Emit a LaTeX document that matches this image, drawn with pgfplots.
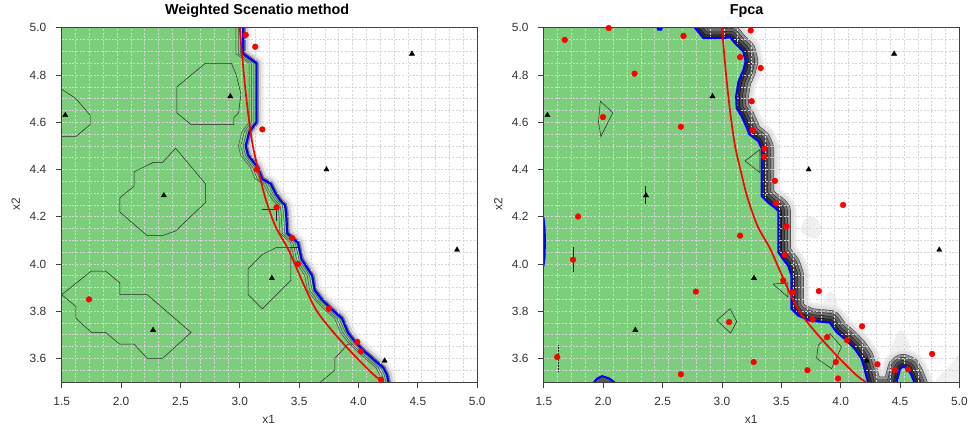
\documentclass[border=0pt]{standalone}
\usepackage{fontspec}
\setmainfont{Liberation Sans}
\usepackage{pgfplots}
\usepackage{pgfplotstable}
\pgfplotsset{compat=1.18}
\definecolor{pgreen}{RGB}{124,205,124}
\definecolor{gridc}{RGB}{214,214,214}

% ---------- left panel boundary (blue) ----------
\pgfplotstableread{
x y
3.03 5.02
3.03 4.89
3.14 4.85
3.14 4.60
3.08 4.56
3.05 4.50
3.07 4.46
3.15 4.41
3.19 4.36
3.26 4.34
3.30 4.30
3.34 4.27
3.38 4.25
3.39 4.22
3.40 4.13
3.49 4.09
3.52 4.02
3.61 3.95
3.63 3.89
3.69 3.85
3.77 3.81
3.86 3.77
3.91 3.71
3.97 3.67
4.05 3.63
4.14 3.59
4.21 3.56
4.24 3.53
4.26 3.48
}\Lbound

% ---------- right panel boundary (blue) ----------
\pgfplotstableread{
x y
2.74 5.03
2.774 5.00
2.844 4.957
3.00 4.957
3.07 4.96
3.11 4.935
3.18 4.90
3.20 4.858
3.18 4.82
3.14 4.773
3.12 4.71
3.124 4.66
3.166 4.626
3.21 4.577
3.23 4.55
3.307 4.52
3.334 4.49
3.334 4.288
3.39 4.26
3.446 4.239
3.475 4.225
3.475 4.05
3.516 4.02
3.558 3.993
3.586 3.951
3.586 3.81
3.642 3.782
3.74 3.76
3.908 3.752
3.965 3.712
4.05 3.676
4.12 3.64
4.175 3.60
4.20 3.557
4.23 3.50
4.26 3.47
4.44 3.47
4.47 3.50
4.50 3.557
4.525 3.566
4.567 3.557
4.595 3.53
4.62 3.50
4.65 3.46
}\Rbound

% ---------- true boundary (red) ----------
\pgfplotstableread{
x y
3.00 5.00
3.02 4.88
3.045 4.75
3.075 4.62
3.11 4.50
3.16 4.39
3.215 4.28
3.30 4.16
3.41 4.06
3.55 3.90
3.65 3.80
3.79 3.71
3.97 3.61
4.13 3.53
4.21 3.50
}\Truth

% ---------- points ----------
\pgfplotstableread{
x y
1.53 4.63
2.92 4.71
2.36 4.29
3.27 3.94
2.27 3.72
3.73 4.40
4.45 4.89
4.83 4.06
4.22 3.59
}\Tri

\pgfplotstableread{
x y
3.05 4.97
3.13 4.92
3.19 4.57
3.145 4.40
3.31 4.24
3.44 4.11
3.49 4.00
3.75 3.81
3.99 3.67
4.02 3.63
4.19 3.51
1.73 3.85
}\LRed

\pgfplotstableread{
x y
1.676 4.949
2.046 4.999
2.676 4.966
2.264 4.806
3.242 4.989
3.152 4.876
3.326 4.830
3.25 4.689
3.259 4.567
1.998 4.622
2.654 4.581
3.357 4.489
3.354 4.454
3.446 4.352
3.455 4.257
4.02 4.25
3.544 4.159
1.788 4.201
3.152 4.12
3.53 4.038
1.746 4.018
3.516 3.93
3.595 3.880
3.816 3.885
2.78 3.883
3.763 3.765
3.06 3.754
4.18 3.736
3.886 3.69
4.054 3.677
4.77 3.619
1.612 3.606
4.309 3.575
3.267 3.585
3.959 3.585
3.72 3.55
4.457 3.55
4.566 3.554
2.654 3.533
3.978 3.515
}\RRed

\newcommand{\drawgrid}{%
  \pgfplotsinvokeforeach{1.6167,1.7333,1.85,1.9667,2.0833,2.2,2.3167,2.4333,2.55,2.6667,2.7833,2.9,3.0167,3.1333,3.25,3.3667,3.4833,3.6,3.7167,3.8333,3.95,4.0667,4.1833,4.3,4.4167,4.5333,4.65,4.7667,4.8833}{%
    \draw[gridline] (axis cs:##1,3.5) -- (axis cs:##1,5);}%
  \pgfplotsinvokeforeach{3.55,3.6,3.65,3.7,3.75,3.8,3.85,3.9,3.95,4.0,4.05,4.1,4.15,4.2,4.25,4.3,4.35,4.4,4.45,4.5,4.55,4.6,4.65,4.7,4.75,4.8,4.85,4.9,4.95}{%
    \draw[gridline] (axis cs:1.5,##1) -- (axis cs:5,##1);}%
}

\tikzset{gridline/.style={gridc, dash pattern=on 2bp off 1.6bp, line width=0.7bp}}

\pgfplotsset{
  panel/.style={
    scale only axis, width=417.7bp, height=356bp,
    xmin=1.5, xmax=5, ymin=3.5, ymax=5,
    xtick={1.5,2.0,2.5,3.0,3.5,4.0,4.5,5.0},
    ytick={3.6,3.8,4.0,4.2,4.4,4.6,4.8,5.0},
    axis on top, tick align=outside, major tick length=6bp,
    axis line style={black!75, line width=0.8bp},
    every tick/.style={black!75, line width=0.8bp},
    xtick pos=bottom, ytick pos=left,
    ticklabel style={font=\fontsize{12}{14}\selectfont, text=black!80},
    xticklabel style={yshift=-6bp},
    yticklabel style={xshift=-6bp},
    /pgf/number format/fixed, /pgf/number format/fixed zerofill,
    /pgf/number format/precision=1, /pgf/number format/assume math mode=true,
    clip=true,
  },
  redpts/.style={only marks, mark=*, mark size=2.9bp, mark options={fill=red, draw=red}},
  tripts/.style={only marks, mark=triangle*, mark size=3bp, mark options={fill=black, draw=black}},
  cont/.style={black!85, line width=0.5bp},
  band/.style={line join=round, line cap=round},
  blob/.style={fill=black!6, draw=none, smooth cycle},
}

\begin{document}
\begin{tikzpicture}
\path (0,0) rectangle (971bp,429bp);

% ================= LEFT PANEL =================
\begin{axis}[panel, at={(62bp,45bp)}, anchor=south west]
  % halo right of boundary
  \addplot[band, black!6, line width=16bp] table {\Lbound};
  \addplot[band, black!18, line width=10bp] table {\Lbound};
  \addplot[band, black!50, line width=5bp] table {\Lbound};
  % green region
  \addplot[fill=pgreen, draw=none] coordinates {(1.4,3.45) (1.4,5.05) (3.03,5.05)
    (3.03,4.89) (3.14,4.85) (3.14,4.60) (3.08,4.56) (3.05,4.50) (3.07,4.46) (3.15,4.41)
    (3.19,4.36) (3.26,4.34) (3.30,4.30) (3.34,4.27) (3.38,4.25) (3.39,4.22) (3.40,4.13)
    (3.49,4.09) (3.52,4.02) (3.61,3.95) (3.63,3.89) (3.69,3.85) (3.77,3.81) (3.86,3.77)
    (3.91,3.71) (3.97,3.67) (4.05,3.63) (4.14,3.59) (4.21,3.56) (4.24,3.53) (4.26,3.45)};
  \drawgrid
  % contour lines parallel to the boundary
  \addplot[black!70, line width=0.5bp] table[x expr=\thisrow{x}-0.022, y=y] {\Lbound};
  \addplot[black!70, line width=0.5bp] table[x expr=\thisrow{x}-0.042, y=y] {\Lbound};
  \addplot[black!70, line width=0.5bp] table[x expr=\thisrow{x}-0.062, y=y] {\Lbound};
  % other contour polygons
  \addplot[cont] coordinates {(1.5,4.74) (1.62,4.70) (1.74,4.63) (1.74,4.59) (1.62,4.54) (1.5,4.54)};
  \addplot[cont] coordinates {(2.47,4.75) (2.71,4.85) (2.93,4.85) (2.97,4.80) (3.01,4.72) (2.99,4.64) (2.95,4.62) (2.95,4.59) (2.59,4.59) (2.47,4.64) (2.47,4.75)};
  \addplot[cont] coordinates {(2.11,4.39) (2.27,4.43) (2.35,4.43) (2.46,4.49) (2.71,4.34) (2.71,4.26) (2.46,4.14) (2.35,4.12) (2.22,4.12) (1.99,4.22) (1.99,4.28) (2.11,4.33) (2.11,4.39)};
  \addplot[cont] coordinates {(3.19,4.04) (3.31,4.07) (3.43,4.07) (3.43,3.93) (3.19,3.81) (3.07,3.87) (3.07,3.98) (3.19,4.04)};
  \addplot[cont] coordinates {(3.43,4.07) (3.50,4.07)};
  \addplot[cont] coordinates {(1.5,3.87) (1.75,3.97) (1.87,3.97) (1.99,3.92) (1.99,3.87) (2.22,3.87) (2.59,3.71) (2.35,3.60) (2.22,3.60) (2.11,3.66) (1.99,3.66) (1.87,3.71) (1.75,3.71) (1.62,3.77) (1.62,3.82) (1.5,3.87)};
  \addplot[cont] coordinates {(3.68,3.50) (3.80,3.55) (3.80,3.60) (3.91,3.66) (3.95,3.66)};
  \addplot[cont] coordinates {(3.19,4.23) (3.31,4.23) (3.31,4.18)};
  % estimated boundary
  \addplot[blue, line width=2.2bp, line join=round] table {\Lbound};
  % true boundary
  \addplot[red, line width=1.7bp, smooth] table {\Truth};
  % points
  \addplot[tripts] table {\Tri};
  \addplot[redpts] table {\LRed};
\end{axis}

% ================= RIGHT PANEL =================
\begin{axis}[panel, at={(546.7bp,45bp)}, anchor=south west]
  % faint grey patches
  \addplot[blob] coordinates {(3.66,4.15) (3.72,4.20) (3.80,4.19) (3.84,4.15) (3.80,4.11) (3.70,4.12)};
  \addplot[blob] coordinates {(3.84,3.80) (3.90,3.88) (3.96,3.86) (3.97,3.80)};
  \addplot[blob] coordinates {(4.42,3.62) (4.50,3.72) (4.58,3.66) (4.55,3.60)};
  \addplot[blob] coordinates {(4.80,3.50) (4.90,3.56) (5.02,3.62) (5.02,3.50)};
  % band right of boundary
  \addplot[band, black!7, line width=36bp] table {\Rbound};
  \addplot[band, black!12, line width=31bp] table {\Rbound};
  \addplot[band, black!80, line width=25bp] table {\Rbound};
  \addplot[band, black!42, line width=24bp] table {\Rbound};
  \addplot[band, black!85, line width=19bp] table {\Rbound};
  \addplot[band, black!58, line width=18bp] table {\Rbound};
  \addplot[band, black!90, line width=13bp] table {\Rbound};
  \addplot[band, black!70, line width=12bp] table {\Rbound};
  \addplot[band, black!95, line width=7bp] table {\Rbound};
  \addplot[band, black!82, line width=6bp] table {\Rbound};
  % green region
  \addplot[fill=pgreen, draw=none] coordinates {(1.4,3.45) (1.4,5.05) (2.74,5.05) (2.774,5.00)
    (2.844,4.957) (3.00,4.957) (3.07,4.96) (3.11,4.935) (3.18,4.90) (3.20,4.858) (3.18,4.82)
    (3.14,4.773) (3.12,4.71) (3.124,4.66) (3.166,4.626) (3.21,4.577) (3.23,4.55) (3.307,4.52)
    (3.334,4.49) (3.334,4.288) (3.39,4.26) (3.446,4.239) (3.475,4.225) (3.475,4.05) (3.516,4.02)
    (3.558,3.993) (3.586,3.951) (3.586,3.81) (3.642,3.782) (3.74,3.76) (3.908,3.752) (3.965,3.712)
    (4.05,3.676) (4.12,3.64) (4.175,3.60) (4.20,3.557) (4.23,3.50) (4.24,3.45)};
  \addplot[fill=pgreen, draw=none] coordinates {(4.44,3.45) (4.47,3.50) (4.50,3.557) (4.525,3.566) (4.567,3.557) (4.595,3.53) (4.62,3.50) (4.65,3.45)};
  \drawgrid
  % small misclassified patches
  \addplot[fill=black!65, draw=blue, line width=2bp] coordinates {(1.906,3.49) (1.95,3.515) (1.99,3.525) (2.05,3.515) (2.116,3.49)};
  \addplot[fill=blue, draw=blue, line width=1bp] coordinates {(2.445,5.01) (2.46,4.99) (2.49,4.99) (2.505,5.01)};
  \addplot[blue, line width=2.2bp] coordinates {(1.495,4.20) (1.505,4.15) (1.508,4.10) (1.505,4.03) (1.495,3.99)};
  % contour polygons
  \addplot[cont] coordinates {(1.975,4.69) (2.08,4.64) (1.98,4.54) (1.96,4.60) (1.975,4.69)};
  \addplot[cont] coordinates {(2.354,4.33) (2.354,4.253)};
  \addplot[cont] coordinates {(1.746,4.07) (1.746,3.965)};
  \addplot[cont, densely dotted] coordinates {(1.62,3.655) (1.62,3.543)};
  \addplot[cont] coordinates {(3.32,4.485) (3.194,4.436) (3.32,4.387) (3.32,4.485)};
  \addplot[cont] coordinates {(2.956,3.761) (3.068,3.810) (3.124,3.757) (3.074,3.707) (2.956,3.761)};
  \addplot[cont] coordinates {(3.43,3.915) (3.555,3.92) (3.555,3.86) (3.43,3.915)};
  \addplot[cont] coordinates {(3.81,3.655) (3.91,3.705) (4.007,3.649) (3.923,3.557) (3.797,3.60) (3.81,3.655)};
  % estimated boundary
  \addplot[blue, line width=2.2bp, line join=round] table {\Rbound};
  % true boundary
  \addplot[red, line width=1.7bp, smooth] table {\Truth};
  % points
  \addplot[tripts] table {\Tri};
  \addplot[redpts] table {\RRed};
\end{axis}

% titles and labels
\node[anchor=base, font=\bfseries\fontsize{14.5}{16}\selectfont] at (258.5bp,414bp) {Weighted Scenatio method};
\node[anchor=base, font=\bfseries\fontsize{14.5}{16}\selectfont] at (750.5bp,414bp) {Fpca};
\node[anchor=base, font=\fontsize{12}{14}\selectfont, text=black!80] at (270bp,3bp) {x1};
\node[anchor=base, font=\fontsize{12}{14}\selectfont, text=black!80] at (755bp,3bp) {x1};
\node[anchor=base, rotate=90, font=\fontsize{12}{14}\selectfont, text=black!80] at (20bp,224bp) {x2};
\node[anchor=base, rotate=90, font=\fontsize{12}{14}\selectfont, text=black!80] at (505bp,224bp) {x2};
\end{tikzpicture}
\end{document}
